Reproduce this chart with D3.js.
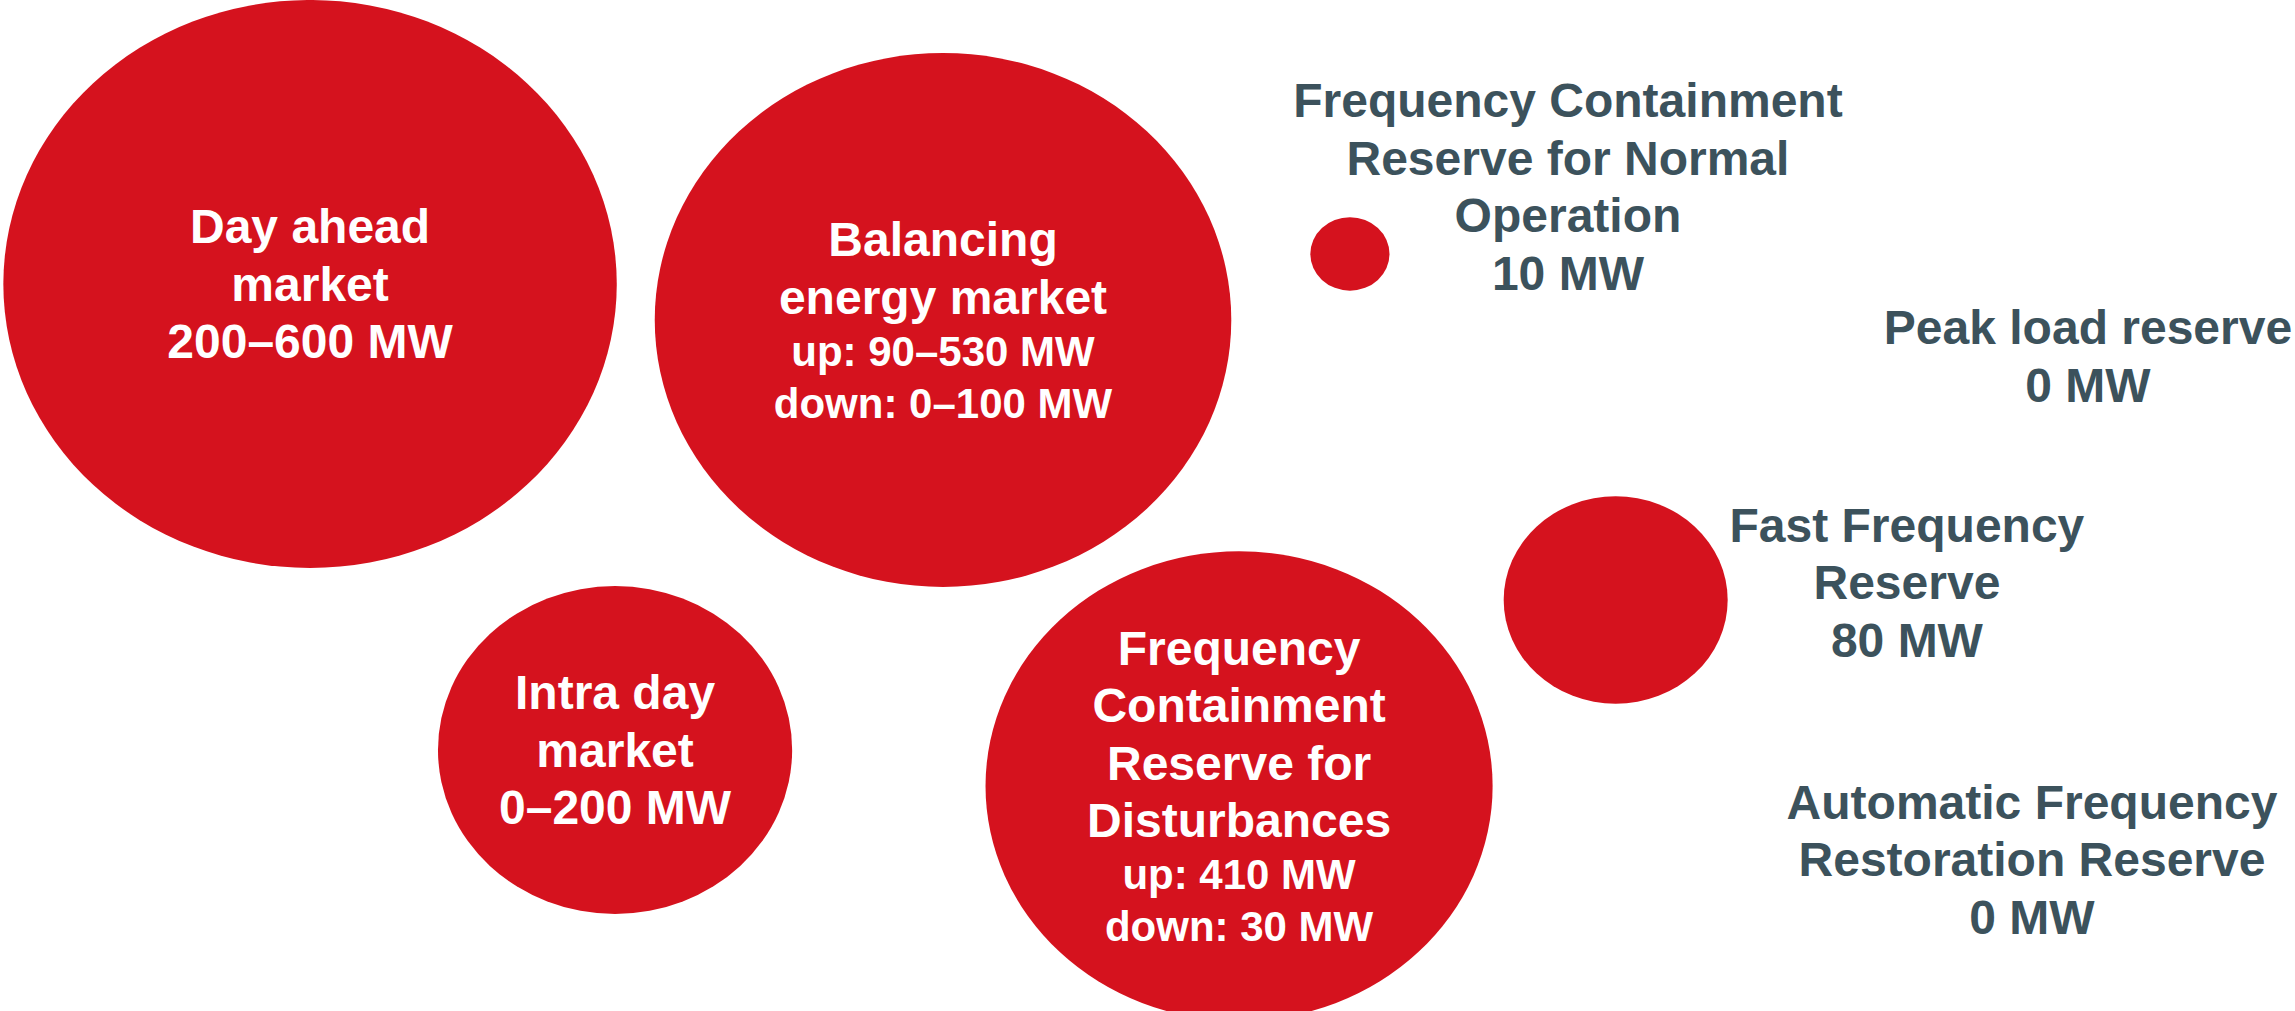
<!DOCTYPE html>
<html>
<head>
<meta charset="utf-8">
<script src="https://cdn.jsdelivr.net/npm/d3@7"></script>
<style>
  html, body { margin: 0; padding: 0; background: #ffffff; }
  svg { display: block; }
  text { font-family: "Liberation Sans", Arial, sans-serif; font-weight: bold; }
</style>
</head>
<body>
<svg id="chart"></svg>
<script>
// Market and reserve products
const categories = [
  "Day ahead market",
  "Balancing energy market",
  "Intra day market",
  "Frequency Containment Reserve for Disturbances",
  "Frequency Containment Reserve for Normal Operation",
  "Fast Frequency Reserve",
  "Peak load reserve",
  "Automatic Frequency Restoration Reserve"
];

// Name split into display lines
const nameLines = [
  ["Day ahead", "market"],
  ["Balancing", "energy market"],
  ["Intra day", "market"],
  ["Frequency", "Containment", "Reserve for", "Disturbances"],
  ["Frequency Containment", "Reserve for Normal", "Operation"],
  ["Fast Frequency", "Reserve"],
  ["Peak load reserve"],
  ["Automatic Frequency", "Restoration Reserve"]
];

// Capacity text per product
const capacityLines = [
  ["200–600 MW"],
  ["up: 90–530 MW", "down: 0–100 MW"],
  ["0–200 MW"],
  ["up: 410 MW", "down: 30 MW"],
  ["10 MW"],
  ["80 MW"],
  ["0 MW"],
  ["0 MW"]
];

// Largest capacity (MW) per product, sets bubble area
const maxCapacity = [600, 530, 200, 410, 10, 80, 0, 0];

// Layout: bubble centres and outside-label anchors, in percent of the canvas
const layout = [
  { bx: 13.51, by: 28.09 },
  { bx: 41.09, by: 31.65 },
  { bx: 26.80, by: 74.18 },
  { bx: 53.99, by: 77.75 },
  { bx: 58.82, by: 25.12, lx: 68.32, ly: 18.45 },
  { bx: 70.40, by: 59.35, lx: 83.09, ly: 57.57 },
  { bx: null,  by: null,  lx: 90.98, ly: 35.21 },
  { bx: null,  by: null,  lx: 88.54, ly: 84.97 }
];

const W = 2295, H = 1011;
const RED = "#d5121e", SLATE = "#3c525c";
const MAIN = 48, SMALL = 42, CAP = 34;
const GAP_MAIN = 57.5, GAP_SMALL = 52;
const ASPECT = 1.08;      // bubbles are drawn slightly wider than tall
const INSIDE_MIN = 150;   // products from this size carry their label inside

const svg = d3.select("#chart").attr("width", W).attr("height", H);

const x = d3.scaleLinear().domain([0, 100]).range([0, W]);
const y = d3.scaleLinear().domain([0, 100]).range([0, H]);
const r = d3.scaleSqrt().domain([0, d3.max(maxCapacity)]).range([0, 284]);

const items = categories.map((c, i) => ({
  name: c,
  value: maxCapacity[i],
  lines: nameLines[i].map(t => ({ t, small: false }))
    .concat(capacityLines[i].map(t => ({ t, small: capacityLines[i].length > 1 }))),
  ...layout[i]
}));

// Bubbles
svg.append("g")
  .selectAll("ellipse")
  .data(items.filter(d => d.value > 0))
  .join("ellipse")
  .attr("cx", d => x(d.bx))
  .attr("cy", d => y(d.by))
  .attr("rx", d => r(d.value) * ASPECT)
  .attr("ry", d => r(d.value))
  .attr("fill", RED);

// Labels: centred text blocks, inside large bubbles or beside small ones
svg.append("g")
  .selectAll("text")
  .data(items)
  .join("text")
  .attr("text-anchor", "middle")
  .attr("fill", d => d.value >= INSIDE_MIN ? "#ffffff" : SLATE)
  .each(function (d) {
    const inside = d.value >= INSIDE_MIN;
    const cx = x(inside ? d.bx : d.lx);
    const cy = y(inside ? d.by : d.ly);
    const gaps = d.lines.slice(1).map(l => l.small ? GAP_SMALL : GAP_MAIN);
    const total = CAP + d3.sum(gaps);
    let base = cy - total / 2 + CAP;
    const sel = d3.select(this);
    d.lines.forEach((l, k) => {
      if (k > 0) base += gaps[k - 1];
      sel.append("tspan")
        .attr("x", cx)
        .attr("y", base)
        .attr("font-size", l.small ? SMALL : MAIN)
        .text(l.t);
    });
  });
</script>
</body>
</html>
